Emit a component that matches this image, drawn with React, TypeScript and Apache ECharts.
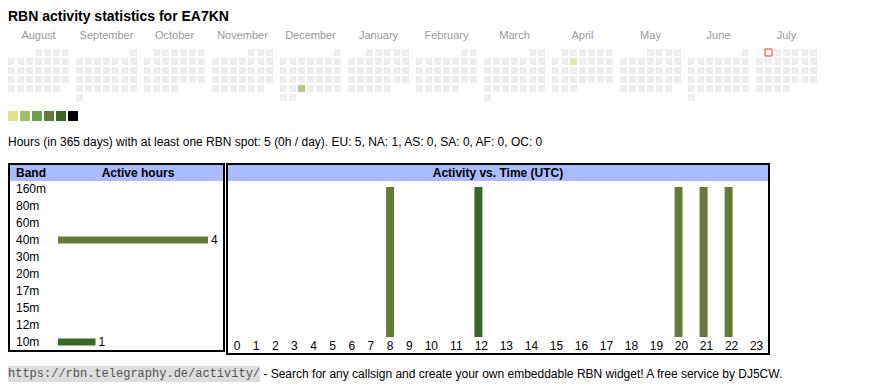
import React, { useEffect, useRef } from 'react';
import * as echarts from 'echarts';

// ---------------- data ----------------
const callsign = 'EA7KN';
const totalDays = 365;
const monthRanges = ['2024-08', '2024-09', '2024-10', '2024-11', '2024-12', '2025-01', '2025-02', '2025-03', '2025-04', '2025-05', '2025-06', '2025-07'];
const monthLabels = ['August', 'September', 'October', 'November', 'December', 'January', 'February', 'March', 'April', 'May', 'June', 'July'];
const activeDays = ['2024-12-25', '2025-04-09'];
const activeDayHours = [4, 1];
const todayDate = '2025-07-01';
const levelMins = [1, 2, 5, 9, 13, 19];
const levelColors = ['#dde38c', '#9dc16b', '#6aa149', '#657a3a', '#3b6628', '#000000'];
const bands = ['160m', '80m', '60m', '40m', '30m', '20m', '17m', '15m', '12m', '10m'];
const hourLabels = ['0', '1', '2', '3', '4', '5', '6', '7', '8', '9', '10', '11', '12', '13', '14', '15', '16', '17', '18', '19', '20', '21', '22', '23'];
const activeHours = [8, 12, 20, 21, 22];
const activeHourBands = ['40m', '10m', '40m', '40m', '40m'];
const continents = ['EU', 'NA', 'AS', 'SA', 'AF', 'OC'];
const continentHours = [5, 1, 0, 0, 0, 0];

// ---------------- style ----------------
const FONT = 'Arial, "Liberation Sans", Helvetica, sans-serif';
const MONO = '"Liberation Mono", "Courier New", monospace';
const bandColors: Record<string, string> = { '40m': '#657a3a', '10m': '#3b6628' };
const HEADER_BLUE = '#aabbff';

// calendar layout
const CAL_LEFT = 7;
const CAL_TOP = 48;
const CAL_STEP = 68;
const CELL = 9;

// HTML-table-like column layout for the hour axis
const COL_PAD = 13.26;
const CHAR_W = 5.88;
const colW = hourLabels.map((l) => COL_PAD + CHAR_W * l.length);
const colLeft: number[] = [];
colW.reduce((acc, w, i) => { colLeft[i] = acc; return acc + w; }, 0);
const totalW = colW.reduce((a, b) => a + b, 0);
const labelCenters = colLeft.map((l, i) => l + colW[i] / 2);
const barCenters = colLeft.map((l) => l + (COL_PAD + CHAR_W) / 2);

export default function App() {
  const ref = useRef<HTMLDivElement>(null);
  useEffect(() => {
    const chart = echarts.init(ref.current!, null, { renderer: 'svg' });

    const bandCounts = bands.map((b) => activeHourBands.filter((x) => x === b).length);
    const totalHours = activeHours.length;
    const statsText =
      `Hours (in ${totalDays} days) with at least one RBN spot: ${totalHours} (${Math.round(totalHours / totalDays)}h / day). ` +
      continents.map((c, i) => `${c}: ${continentHours[i]}`).join(', ');

    const daySeries = monthRanges.map((m, i) => ({
      type: 'scatter',
      coordinateSystem: 'calendar',
      calendarIndex: i,
      symbol: 'rect',
      symbolSize: 7,
      silent: true,
      data: activeDays
        .map((d, k) => [d, activeDayHours[k]])
        .filter((d) => (d[0] as string).startsWith(m)),
    }));
    const todayIdx = monthRanges.findIndex((m) => todayDate.startsWith(m));

    const option: any = {
      animation: false,
      textStyle: { fontFamily: FONT },
      calendar: monthRanges.map((r, i) => ({
        range: r,
        orient: 'vertical',
        cellSize: [CELL, CELL],
        left: CAL_LEFT + i * CAL_STEP,
        top: CAL_TOP,
        splitLine: { show: false },
        itemStyle: { color: '#eeeeee', borderColor: '#ffffff', borderWidth: 2 },
        dayLabel: { show: false, firstDay: 1 },
        monthLabel: { show: false },
        yearLabel: { show: false },
        silent: true,
      })),
      visualMap: {
        type: 'piecewise',
        orient: 'horizontal',
        left: 8,
        top: 111,
        padding: 0,
        itemWidth: 10,
        itemHeight: 10,
        itemGap: 2,
        itemSymbol: 'rect',
        showLabel: false,
        selectedMode: false,
        seriesIndex: daySeries.map((_, i) => i),
        pieces: levelMins.map((m, i) =>
          i < levelMins.length - 1
            ? { gte: m, lt: levelMins[i + 1], color: levelColors[i] }
            : { gte: m, color: levelColors[i] }
        ),
      },
      grid: [
        { left: 58, width: 150, top: 180.5, height: 170, containLabel: false },
        { left: 227.4, width: totalW, top: 187, height: 150, containLabel: false },
      ],
      xAxis: [
        { type: 'value', gridIndex: 0, min: 0, max: 'dataMax', show: false },
        {
          type: 'value',
          gridIndex: 1,
          min: 0,
          max: totalW,
          axisLine: { show: false },
          axisTick: { show: false },
          splitLine: { show: false },
          axisLabel: {
            customValues: labelCenters,
            formatter: (v: number) => {
              const k = labelCenters.findIndex((c) => Math.abs(c - v) < 0.5);
              return k >= 0 ? hourLabels[k] : '';
            },
            fontSize: 12,
            fontFamily: FONT,
            color: '#000',
            margin: 3,
            showMinLabel: true,
            showMaxLabel: true,
          },
        },
      ],
      yAxis: [
        {
          type: 'category',
          gridIndex: 0,
          data: bands,
          inverse: true,
          axisLine: { show: false },
          axisTick: { show: false },
          splitLine: { show: false },
          axisLabel: { interval: 0, align: 'left', margin: 42, fontSize: 12, fontFamily: FONT, color: '#000' },
        },
        { type: 'value', gridIndex: 1, min: 0, max: 1, show: false },
      ],
      series: [
        ...daySeries,
        {
          type: 'scatter',
          coordinateSystem: 'calendar',
          calendarIndex: todayIdx,
          symbol: 'rect',
          symbolSize: 7,
          silent: true,
          itemStyle: { color: '#ffffff', borderColor: '#ff0000', borderWidth: 1 },
          data: [[todayDate, 0]],
        },
        {
          type: 'bar',
          xAxisIndex: 0,
          yAxisIndex: 0,
          barWidth: 7,
          silent: true,
          data: bandCounts.map((v, i) => ({ value: v, itemStyle: { color: bandColors[bands[i]] || '#657a3a' } })),
          label: {
            show: true,
            position: 'right',
            distance: 3,
            fontSize: 12,
            fontFamily: FONT,
            color: '#000',
            formatter: (p: any) => (p.value ? String(p.value) : ''),
          },
        },
        {
          type: 'bar',
          xAxisIndex: 1,
          yAxisIndex: 1,
          barWidth: 8,
          silent: true,
          data: activeHours.map((h, i) => ({
            value: [barCenters[h], 1],
            itemStyle: { color: bandColors[activeHourBands[i]] },
          })),
        },
      ],
      graphic: [
        {
          type: 'text', x: 8, y: 16,
          style: { text: `RBN activity statistics for ${callsign}`, font: `bold 14px ${FONT}`, fill: '#000', verticalAlign: 'middle' },
        },
        ...monthLabels.map((m, i) => ({
          type: 'text', x: CAL_LEFT + 1 + i * CAL_STEP + 30.5, y: 35,
          style: { text: m, fontSize: 11, fontFamily: FONT, fill: '#999999', align: 'center', verticalAlign: 'middle' },
        })),
        {
          type: 'text', x: 8, y: 142,
          style: { text: statsText, fontSize: 12, fontFamily: FONT, fill: '#000', verticalAlign: 'middle' },
        },
        // band table box
        { type: 'rect', shape: { x: 10, y: 165, width: 213, height: 16 }, style: { fill: HEADER_BLUE }, z: -1 },
        { type: 'rect', shape: { x: 9, y: 164, width: 215, height: 187 }, style: { fill: 'none', stroke: '#000', lineWidth: 2 } },
        { type: 'text', x: 16, y: 173, style: { text: 'Band', font: `bold 12px ${FONT}`, fill: '#000', verticalAlign: 'middle' } },
        { type: 'text', x: 138, y: 173, style: { text: 'Active hours', font: `bold 12px ${FONT}`, fill: '#000', align: 'center', verticalAlign: 'middle' } },
        // time table box
        { type: 'rect', shape: { x: 228, y: 165, width: 540, height: 16 }, style: { fill: HEADER_BLUE }, z: -1 },
        { type: 'rect', shape: { x: 227, y: 164, width: 542, height: 190 }, style: { fill: 'none', stroke: '#000', lineWidth: 2 } },
        { type: 'text', x: 498, y: 173, style: { text: 'Activity vs. Time (UTC)', font: `bold 12px ${FONT}`, fill: '#000', align: 'center', verticalAlign: 'middle' } },
        // footer
        {
          type: 'text', x: 8, y: 374,
          style: {
            text: '{code|https://rbn.telegraphy.de/activity/}{plain| - Search for any callsign and create your own embeddable RBN widget! A free service by DJ5CW.}',
            verticalAlign: 'middle',
            rich: {
              code: { fontFamily: MONO, fontSize: 12, fill: '#555555', backgroundColor: '#dddddd', padding: [2, 0] },
              plain: { fontFamily: FONT, fontSize: 12, fill: '#000000' },
            },
          },
        },
      ],
    };
    chart.setOption(option);
    return () => chart.dispose();
  }, []);
  return (
    <div
      ref={ref}
      style={{ position: 'fixed', left: 0, top: 0, width: 870, height: 390, background: '#ffffff' }}
    />
  );
}
